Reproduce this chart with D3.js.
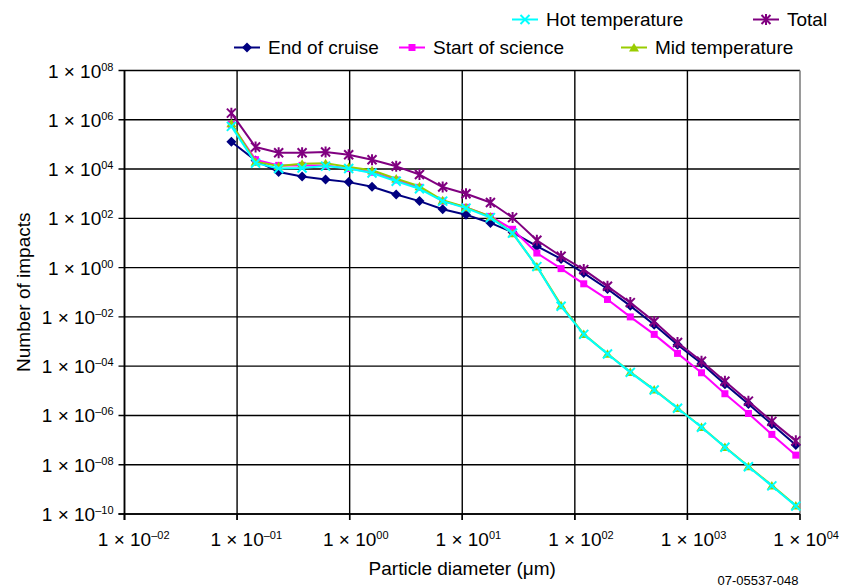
<!DOCTYPE html>
<html>
<head>
<meta charset="utf-8">
<script src="https://cdn.jsdelivr.net/npm/d3@7"></script>
<style>
  html, body { margin: 0; padding: 0; background: #ffffff; }
  svg { display: block; font-family: "Liberation Sans", Arial, sans-serif; }
</style>
</head>
<body>
<svg id="chart" width="853" height="587"></svg>
<script>
// ---- data ----
const diameters = [0.089, 0.146, 0.234, 0.378, 0.611, 0.98, 1.58, 2.59, 4.17, 6.7, 10.8, 17.8, 28, 46, 75.5, 120, 195, 311, 507, 817, 1334, 2153, 3483, 5623, 9180];

const endOfCruise    = [1.29e5, 2.24e4, 7.6e3, 5.0e3, 3.8e3, 2.95e3, 1.9e3, 9.3e2, 5.0e2, 2.34e2, 1.41e2, 65, 27, 7.4, 2.24, 0.60, 0.135, 0.028, 4.8e-3, 7.4e-4, 1.29e-4, 1.86e-5, 2.9e-6, 4.4e-7, 6.3e-8];
const startOfScience = [6.5e5, 2.4e4, 1.41e4, 1.41e4, 1.41e4, 1.05e4, 7.4e3, 3.6e3, 1.82e3, 5.0e2, 2.8e2, 1.2e2, 36, 3.9, 0.91, 0.22, 0.051, 1.0e-2, 1.95e-3, 3.3e-4, 5.4e-5, 7.6e-6, 1.2e-6, 1.7e-7, 2.45e-8];
const midTemperature = [7.2e5, 2.0e4, 1.32e4, 1.66e4, 1.74e4, 1.2e4, 8.9e3, 4.1e3, 2.0e3, 5.4e2, 2.8e2, 1.2e2, 25, 1.12, 0.030, 2.0e-3, 3.2e-4, 5.8e-5, 1.12e-5, 2.0e-6, 3.4e-7, 5.2e-8, 8.7e-9, 1.45e-9, 2.2e-10];
const hotTemperature = [5.4e5, 1.74e4, 1.05e4, 1.1e4, 1.32e4, 1.05e4, 6.9e3, 3.2e3, 1.58e3, 5.0e2, 2.6e2, 1.07e2, 25, 1.1, 0.027, 1.95e-3, 3.1e-4, 5.6e-5, 1.07e-5, 1.95e-6, 3.3e-7, 5.1e-8, 8.3e-9, 1.38e-9, 2.1e-10];
const total          = [1.86e6, 7.8e4, 4.57e4, 4.57e4, 4.9e4, 3.8e4, 2.4e4, 1.29e4, 6.0e3, 1.86e3, 1.0e3, 4.4e2, 1.07e2, 12.9, 2.9, 0.83, 0.174, 0.038, 6.5e-3, 9.1e-4, 1.58e-4, 2.45e-5, 3.8e-6, 5.75e-7, 9.3e-8];

const seriesNames  = ["End of cruise", "Start of science", "Mid temperature", "Hot temperature", "Total"];
const seriesValues = [endOfCruise, startOfScience, midTemperature, hotTemperature, total];

const xExponents = [-2, -1, 0, 1, 2, 3, 4];
const yExponents = [8, 6, 4, 2, 0, -2, -4, -6, -8, -10];

const xTitle = "Particle diameter (\u03bcm)";
const yTitle = "Number of impacts";
const footnote = "07-05537-048";

// ---- styles ----
const colors  = ["#000080", "#ff00ff", "#99cc00", "#00ffff", "#800080"];
const markers = ["diamond", "square", "triangle", "x", "star"];

const svg = d3.select("#chart");
const plot = { left: 124.5, right: 800, top: 70.5, bottom: 514 };

const x = d3.scaleLog().domain([1e-2, 1e4]).range([plot.left, plot.right]);
const y = d3.scaleLog().domain([1e-10, 1e8]).range([plot.bottom, plot.top]);

// grid lines
const g = svg.append("g");
g.selectAll("line.hg").data(yExponents).join("line")
  .attr("x1", plot.left - 6).attr("x2", plot.right)
  .attr("y1", d => y(Math.pow(10, d))).attr("y2", d => y(Math.pow(10, d)))
  .attr("stroke", "#000").attr("stroke-width", 1.4);
g.selectAll("line.vg").data(xExponents).join("line")
  .attr("x1", d => x(Math.pow(10, d))).attr("x2", d => x(Math.pow(10, d)))
  .attr("y1", plot.top).attr("y2", plot.bottom + 6)
  .attr("stroke", d => d === 4 ? "#808080" : "#000")
  .attr("stroke-width", d => d === 4 ? 1.6 : 1.4);
// axis lines
g.append("line").attr("x1", plot.left).attr("x2", plot.left).attr("y1", plot.top).attr("y2", plot.bottom + 6)
  .attr("stroke", "#000").attr("stroke-width", 1.6);
g.append("line").attr("x1", plot.left - 6).attr("x2", plot.right).attr("y1", plot.bottom).attr("y2", plot.bottom)
  .attr("stroke", "#000").attr("stroke-width", 1.6);
g.selectAll("line.xt").data(xExponents).join("line")
  .attr("x1", d => x(Math.pow(10, d))).attr("x2", d => x(Math.pow(10, d)))
  .attr("y1", plot.bottom).attr("y2", plot.bottom + 6)
  .attr("stroke", "#000").attr("stroke-width", 1.4);

function expStr(e) {
  const s = String(Math.abs(e)).padStart(2, "0");
  return (e < 0 ? "\u2013" : "") + s;
}

// y tick labels
svg.append("g").selectAll("text").data(yExponents).join("text")
  .attr("x", plot.left - 11)
  .attr("y", d => y(Math.pow(10, d)) + 7)
  .attr("text-anchor", "end")
  .attr("font-size", 19)
  .attr("fill", "#000")
  .each(function(d) {
    const t = d3.select(this);
    t.append("tspan").text("1 \u00d7 10");
    t.append("tspan").attr("font-size", 11).attr("dy", -7).text(expStr(d));
  });

// x tick labels (base centered on tick)
svg.append("g").selectAll("text").data(xExponents).join("text")
  .attr("y", plot.bottom + 32)
  .attr("font-size", 19)
  .attr("fill", "#000")
  .each(function(d) {
    const t = d3.select(this);
    const base = t.append("tspan").text("1 \u00d7 10");
    t.append("tspan").attr("font-size", 11).attr("dy", -7).text(expStr(d));
    const w = base.node().getComputedTextLength();
    t.attr("x", x(Math.pow(10, d)) - w / 2);
  });

// axis titles
svg.append("text").attr("x", (plot.left + plot.right) / 2).attr("y", 575)
  .attr("text-anchor", "middle").attr("font-size", 19).text(xTitle);
svg.append("text")
  .attr("transform", `translate(30,${(plot.top + plot.bottom) / 2}) rotate(-90)`)
  .attr("text-anchor", "middle").attr("font-size", 19).text(yTitle);
svg.append("text").attr("x", 758).attr("y", 585)
  .attr("text-anchor", "middle").attr("font-size", 13).text(footnote);

// marker drawing
function drawMarker(sel, type, color) {
  if (type === "diamond") {
    sel.append("path").attr("d", "M0,-5L5,0L0,5L-5,0Z").attr("fill", color);
  } else if (type === "square") {
    sel.append("rect").attr("x", -3.5).attr("y", -3.5).attr("width", 7).attr("height", 7).attr("fill", color);
  } else if (type === "triangle") {
    sel.append("path").attr("d", "M0,-4.5L5,4L-5,4Z").attr("fill", color);
  } else if (type === "x") {
    sel.append("path").attr("d", "M-4.5,-4.5L4.5,4.5M-4.5,4.5L4.5,-4.5")
      .attr("stroke", color).attr("stroke-width", 2).attr("fill", "none");
  } else if (type === "star") {
    sel.append("path").attr("d", "M-4.5,-4.5L4.5,4.5M-4.5,4.5L4.5,-4.5M0,-5.5L0,5.5")
      .attr("stroke", color).attr("stroke-width", 2).attr("fill", "none");
  }
}

const line = d3.line().x(d => x(d[0])).y(d => y(d[1]));

seriesValues.forEach((vals, i) => {
  const pts = diameters.map((dd, j) => [dd, vals[j]]);
  const sg = svg.append("g");
  sg.append("path").datum(pts).attr("d", line)
    .attr("fill", "none").attr("stroke", colors[i]).attr("stroke-width", 2)
    .attr("stroke-linejoin", "round");
  sg.selectAll("g.m").data(pts).join("g")
    .attr("transform", d => `translate(${x(d[0])},${y(d[1])})`)
    .each(function() { drawMarker(d3.select(this), markers[i], colors[i]); });
});

// legend
const legendItems = [
  { idx: 3, mx: 525, ty: 26 },
  { idx: 4, mx: 766, ty: 26 },
  { idx: 0, mx: 247, ty: 54 },
  { idx: 1, mx: 412, ty: 54 },
  { idx: 2, mx: 634, ty: 54 }
];
const lg = svg.append("g");
legendItems.forEach(it => {
  const cy = it.ty - 6.5;
  lg.append("line").attr("x1", it.mx - 13).attr("x2", it.mx + 13).attr("y1", cy).attr("y2", cy)
    .attr("stroke", colors[it.idx]).attr("stroke-width", 2);
  drawMarker(lg.append("g").attr("transform", `translate(${it.mx},${cy})`), markers[it.idx], colors[it.idx]);
  lg.append("text").attr("x", it.mx + 21).attr("y", it.ty).attr("font-size", 19)
    .text(seriesNames[it.idx]);
});
</script>
</body>
</html>
